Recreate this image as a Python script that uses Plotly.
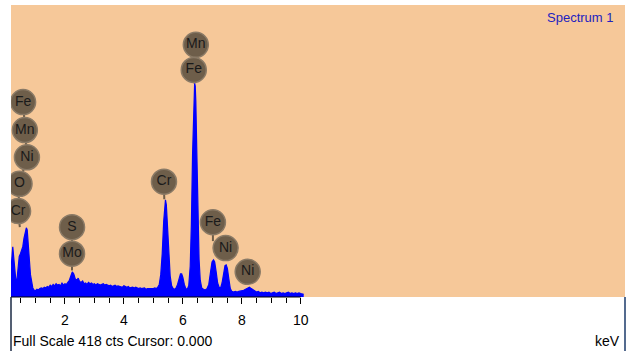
import plotly.graph_objects as go

# ---- spectrum data (keV, counts) ----
energy_kev = [0.17, 0.20, 0.23, 0.26, 0.29, 0.33, 0.37, 0.41, 0.45, 0.49, 0.53, 0.57, 0.61, 0.65, 0.69,
              0.72, 0.75, 0.79, 0.83, 0.87, 0.91, 0.95, 1.00, 1.05, 1.10, 1.15, 1.20, 1.25, 1.30, 1.35,
              1.40, 1.45, 1.50, 1.55, 1.60, 1.65, 1.70, 1.75, 1.80, 1.85, 1.90, 1.95, 2.00, 2.05, 2.10,
              2.15, 2.20, 2.25, 2.30, 2.35, 2.40, 2.45, 2.50, 2.55, 2.60, 2.65, 2.70, 2.75, 2.80, 2.85,
              2.90, 2.95, 3.00, 3.05, 3.10, 3.15, 3.20, 3.30, 3.35, 3.40, 3.50, 3.55, 3.60, 3.70, 3.75,
              3.80, 3.90, 3.95, 4.00, 4.10, 4.15, 4.20, 4.30, 4.35, 4.40, 4.50, 4.55, 4.60, 4.70, 4.75,
              4.80, 4.90, 4.95, 5.00, 5.05, 5.10, 5.15, 5.20, 5.25, 5.30, 5.35, 5.38, 5.41, 5.44, 5.47,
              5.52, 5.57, 5.62, 5.67, 5.72, 5.77, 5.82, 5.87, 5.92, 5.96, 6.00, 6.05, 6.10, 6.15, 6.20,
              6.25, 6.29, 6.33, 6.36, 6.38, 6.40, 6.42, 6.44, 6.47, 6.51, 6.55, 6.59, 6.64, 6.70, 6.76,
              6.82, 6.88, 6.94, 6.99, 7.04, 7.08, 7.13, 7.18, 7.23, 7.28, 7.33, 7.38, 7.43, 7.47, 7.51,
              7.56, 7.61, 7.66, 7.72, 7.78, 7.84, 7.90, 7.96, 8.02, 8.08, 8.14, 8.20, 8.26, 8.32, 8.38,
              8.44, 8.50, 8.56, 8.62, 8.68, 8.74, 8.80, 8.86, 8.92, 8.98, 9.04, 9.10, 9.16, 9.22, 9.28,
              9.34, 9.40, 9.46, 9.52, 9.58, 9.64, 9.70, 9.76, 9.82, 9.88, 9.94, 10.00, 10.06, 10.10]
counts = [40, 66, 72, 58, 38, 26, 24, 40, 58, 62, 66, 72, 84, 95, 99,
          96, 82, 55, 32, 20, 13, 10, 9, 11, 10, 12, 13, 12, 14, 13,
          15, 14, 17, 15, 18, 16, 19, 17, 18, 16, 20, 17, 19, 18, 21,
          24, 30, 36, 33, 26, 24, 27, 22, 21, 23, 19, 20, 18, 21, 19,
          20, 18, 19, 17, 19, 18, 17, 19, 17, 18, 16, 17, 15, 17, 15,
          16, 15, 14, 16, 14, 15, 13, 14, 13, 14, 12, 13, 12, 13, 11,
          12, 12, 11, 12, 13, 12, 14, 18, 32, 62, 108, 130, 139, 132, 110,
          64, 30, 16, 12, 11, 13, 18, 28, 33, 33, 28, 18, 12, 11, 16,
          44, 105, 205, 272, 300, 306, 302, 280, 215, 118, 54, 24, 13, 11, 10,
          12, 18, 36, 50, 53, 50, 36, 20, 14, 13, 20, 34, 45, 46, 41,
          26, 12, 8, 7, 8, 7, 8, 8, 9, 10, 11, 13, 14, 12, 10,
          8, 7, 8, 6, 7, 6, 7, 6, 7, 5, 6, 7, 5, 6, 7,
          5, 6, 5, 6, 7, 5, 6, 5, 6, 5, 6, 5, 5, 4]

full_scale = 418
x_range = [0.17, 21.0]
tick_major = [2, 4, 6, 8, 10]
tick_minor = [0.5, 1, 1.5, 2.5, 3, 3.5, 4.5, 5, 5.5, 6.5, 7, 7.5, 8.5, 9, 9.5]

# ---- element labels: stacks of (name, keV, counts) and where each stem ends ----
stacks = [
    {"names": ["Fe", "Mn", "Ni", "O", "Cr"],
     "kev": [0.58, 0.64, 0.71, 0.46, 0.41], "cts": [279, 239, 200, 162, 123],
     "end": (0.47, 100)},
    {"names": ["S", "Mo"], "kev": [2.24, 2.24], "cts": [100, 62], "end": (2.24, 38)},
    {"names": ["Cr"], "kev": [5.36], "cts": [165], "end": (5.37, 140)},
    {"names": ["Mn", "Fe"], "kev": [6.44, 6.37], "cts": [361, 325], "end": (6.38, 306)},
    {"names": ["Fe"], "kev": [7.02], "cts": [107], "end": (7.02, 80)},
    {"names": ["Ni"], "kev": [7.45], "cts": [70], "end": (7.45, 52)},
    {"names": ["Ni"], "kev": [8.20], "cts": [36], "end": (8.20, 18)},
]

BG = "#F6C899"
LABEL_FILL = "#6E5E4A"
FONT = "Liberation Sans, Arial, sans-serif"

fig = go.Figure()
fig.add_trace(go.Scatter(x=energy_kev, y=counts, mode="lines", fill="tozeroy",
                         line=dict(color="#0000FF", width=1.2), fillcolor="#0000FF",
                         hoverinfo="skip", showlegend=False))

for st in stacks:
    xs = st["kev"] + [st["end"][0]]
    ys = st["cts"] + [st["end"][1]]
    fig.add_trace(go.Scatter(x=xs, y=ys, mode="lines",
                             line=dict(color=LABEL_FILL, width=2),
                             hoverinfo="skip", showlegend=False))
for st in stacks:
    fig.add_trace(go.Scatter(x=st["kev"], y=st["cts"], mode="markers+text",
                             text=st["names"], textposition="middle center",
                             textfont=dict(family=FONT, size=14, color="#1a1a1a"),
                             marker=dict(symbol="circle", size=25, color=LABEL_FILL,
                                         line=dict(color="#8a7a66", width=1.5)),
                             cliponaxis=True, hoverinfo="skip", showlegend=False))

fig.update_layout(
    width=635, height=351,
    margin=dict(l=11, r=10, t=5, b=54),
    paper_bgcolor="white", plot_bgcolor=BG,
    showlegend=False,
    font=dict(family=FONT, size=13, color="black"),
    xaxis=dict(range=x_range, showgrid=False, zeroline=False, showline=False,
               tickmode="array", tickvals=tick_major, ticktext=[str(t) for t in tick_major],
               ticks="outside", ticklen=6, tickwidth=1, tickcolor="black",
               ticklabelstandoff=4,
               tickfont=dict(family=FONT, size=14, color="black"),
               minor=dict(tickmode="array", tickvals=tick_minor, ticks="outside",
                          ticklen=5, tickwidth=1, tickcolor="black", showgrid=False)),
    yaxis=dict(range=[0, full_scale], showgrid=False, zeroline=False, showline=False,
               showticklabels=False, ticks=""),
    shapes=[
        dict(type="line", xref="x", yref="paper", x0=x_range[0], x1=10, y0=0, y1=0,
             line=dict(color="black", width=1)),
        dict(type="line", xref="paper", yref="paper", x0=0, x1=0, y0=0, y1=-54 / 292,
             line=dict(color="#1b2a44", width=1.5)),
        dict(type="line", xref="paper", yref="paper", x0=1, x1=1, y0=0, y1=-54 / 292,
             line=dict(color="#1b3a6a", width=1.5)),
    ],
    annotations=[
        dict(text="Spectrum 1", xref="paper", yref="paper", x=0.984, y=(297 - 17) / 292,
             xanchor="right", yanchor="middle", showarrow=False,
             font=dict(family=FONT, size=13, color="#2222C0")),
        dict(text="Full Scale %d cts Cursor: 0.000" % full_scale, xref="paper", yref="paper",
             x=0.0, y=(297 - 341) / 292, xanchor="left", yanchor="middle", showarrow=False,
             font=dict(family=FONT, size=14, color="black")),
        dict(text="keV", xref="paper", yref="paper", x=0.995, y=(297 - 341) / 292,
             xanchor="right", yanchor="middle", showarrow=False,
             font=dict(family=FONT, size=14, color="black")),
    ],
)

fig.write_html("out.html", config={"displayModeBar": False},
               post_script="document.body.style.margin='0';document.body.style.padding='0';")
